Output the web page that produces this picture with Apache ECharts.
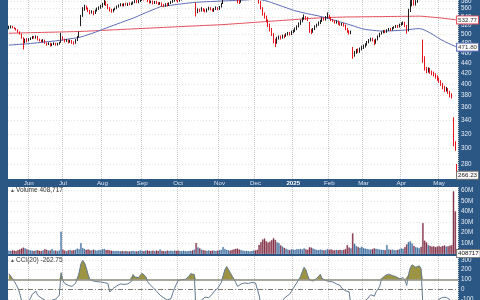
<!DOCTYPE html>
<html><head><meta charset="utf-8">
<script src="https://cdn.jsdelivr.net/npm/echarts@6/dist/echarts.min.js"></script>
<style>html,body{margin:0;padding:0;background:#2b5785;}#c{width:480px;height:300px;}</style>
</head><body><div id="c"></div>
<script>
// ---- categories / tick labels ----
const monthLabels = ['Jun','Jul','Aug','Sep','Oct','Nov','Dec','2025','Feb','Mar','Apr','May'];
const monthStarts = [11,30,52,74,94,117,137,158,178,197,218,239];
const priceTicks = [280,300,320,340,360,380,400,420,440,460,480,500,520,540,560,580];
const volTicks = [10,20,30,40,50,60];
const cciTicks = [-100,0,100,200,300];
const lastText = {price:'266.23', vol:'408717', ma50:'471.80', ma200:'532.77'};
const legendVol = 'Volume 408,717';
const legendCci = 'CCI(20) -262.75';

// ---- daily prices (May 16 2024 .. May 15 2025) ----
const openP = [
514,516,518,515,513,510,505,500,492,482,489,
486,489,491,494,492,495,488,486,484,487,481,478,480,476,478,480,477,479,482,
494,488,485,486,483,485,482,481,487,495,520,542,558,566,561,555,550,553,549,556,560,563,
566,572,578,570,562,557,554,558,561,566,569,571,568,572,570,573,571,574,577,579,576,580,
583,586,584,588,580,576,579,574,578,575,572,574,570,567,572,569,574,578,581,585,
584,580,583,588,592,595,598,600,603,598,570,552,558,556,561,557,554,559,562,558,555,560,563,
560,566,575,592,598,601,604,599,596,592,587,580,577,585,592,596,600,603,606,608,
610,605,596,578,562,548,540,531,522,512,500,485,482,490,494,492,497,495,499,502,500,
505,508,512,518,524,530,536,540,537,525,508,505,512,518,522,526,531,536,534,539,
543,538,533,530,527,529,525,522,524,520,512,506,503,470,457,462,466,464,469,
472,474,478,483,487,490,486,481,488,495,501,504,507,505,509,512,510,514,516,518,517,
522,524,527,519,510,556,574,580,572,579,585,590,485,450,428,425,428,422,420,417,413,
410,405,400,395,390,392,386,381,340,306,278];
const closeP = [
516,518,515,513,510,506,501,493,482,488,486,
489,491,494,492,495,488,486,484,487,481,478,480,476,478,480,477,479,481,495,
488,485,486,483,485,482,480,487,494,503,540,558,565,562,555,550,553,548,556,560,563,566,
572,578,570,562,557,554,558,561,566,569,571,568,572,570,573,571,574,577,579,576,580,583,
586,584,588,580,576,579,574,578,575,572,574,570,567,572,569,574,578,581,585,584,
580,583,588,592,595,598,600,603,598,601,553,558,556,561,557,554,559,562,558,555,560,563,559,
565,572,592,598,601,604,599,596,592,588,579,576,585,592,596,600,603,606,608,610,
605,596,578,562,548,540,531,520,512,500,488,482,490,494,492,497,495,499,502,500,505,
508,512,518,524,530,536,540,537,533,508,505,512,518,522,526,531,536,534,539,543,
538,533,530,527,529,525,522,524,520,512,506,503,505,457,462,466,464,469,472,
474,478,483,487,490,486,480,488,495,501,504,507,505,509,512,510,514,516,518,517,522,
524,527,520,506,555,575,580,572,578,585,590,586,452,428,425,428,422,420,417,413,410,
405,400,395,390,392,386,381,379,309,301,266.23];
const lowP = [
511,513,513,511,508,503,499,490,467,480,482,
484,487,489,490,490,486,484,482,482,479,475,476,473,474,476,475,475,477,481,
486,482,483,480,481,479,477,479,485,493,518,540,555,558,552,546,548,544,547,553,557,560,
563,569,567,559,553,550,551,556,559,563,566,566,566,568,567,569,569,571,574,574,574,577,
580,581,582,577,573,574,571,572,572,569,570,566,564,565,566,567,572,575,578,580,
576,578,581,586,590,593,596,597,595,596,541,549,552,553,553,551,551,556,556,553,552,557,556,
557,563,572,589,595,598,596,594,590,585,574,572,575,583,590,594,598,601,603,605,
602,592,573,558,543,536,527,516,506,496,480,472,479,488,488,490,491,494,497,497,498,
502,505,509,515,521,527,533,533,530,503,500,503,509,515,519,523,528,531,531,536,
535,530,528,524,524,521,519,519,517,509,503,499,500,448,452,458,460,460,465,
468,471,475,480,484,484,476,479,486,493,499,502,502,503,507,507,508,512,514,514,515,
519,521,516,501,506,552,566,568,568,575,582,582,440,425,420,421,419,416,414,410,406,
402,397,391,386,387,383,377,375,303,297,264];
const highP = [
519,520,519,516,514,511,506,501,493,490,491,
491,493,496,496,497,496,490,488,489,488,482,482,481,480,482,481,481,483,503,
495,490,489,488,488,487,484,489,496,506,545,564,570,568,563,557,556,555,558,563,566,570,
575,590,580,572,564,560,560,563,568,571,574,573,574,575,575,576,576,579,582,583,584,588,
590,592,593,589,582,581,581,580,580,577,577,576,572,574,575,576,580,584,589,590,
586,586,590,594,597,600,603,606,604,603,575,561,560,564,562,559,561,565,564,560,562,566,564,
567,575,595,601,604,608,606,601,598,594,588,582,587,595,599,603,606,609,612,614,
613,608,598,580,564,551,543,534,524,514,502,490,494,497,497,499,499,502,505,505,508,
510,515,520,527,533,539,546,542,540,528,512,514,520,524,529,533,539,539,542,551,
545,540,535,532,532,531,527,526,526,522,514,509,508,472,464,468,469,471,475,
477,480,485,489,492,492,488,490,497,503,506,509,509,511,514,514,516,518,521,521,524,
527,529,528,521,560,582,588,585,582,590,595,594,488,453,432,431,430,425,423,420,416,
412,407,402,397,395,393,388,384,345,310,280];
const ma50 = [
476.0,476.3,476.6,476.9,477.2,477.5,477.8,478.0,478.2,478.5,478.8,
479.2,479.6,480.0,480.4,480.8,481.2,481.6,482.0,482.4,482.8,483.2,483.6,484.0,484.4,484.8,485.2,485.6,486.0,486.4,
487.0,487.8,488.6,489.2,489.8,490.3,490.8,491.3,491.9,492.6,493.6,494.8,496.1,497.4,498.7,500.0,501.4,502.8,504.3,505.8,507.4,509.0,
510.6,512.1,513.7,515.2,516.8,518.3,519.9,521.4,523.0,524.5,526.1,527.6,529.2,530.7,532.3,533.8,535.4,537.0,538.8,540.7,542.6,544.5,
546.4,548.2,550.1,552.0,553.8,555.7,557.5,559.4,561.2,563.1,565.0,565.7,566.4,567.0,567.6,568.2,568.8,569.4,570.0,570.6,
571.2,571.8,572.4,573.0,573.5,574.0,574.5,575.0,575.5,576.0,576.3,576.6,576.9,577.2,577.5,577.8,578.0,578.2,578.4,578.6,578.8,579.0,579.2,
579.4,579.6,579.8,580.0,580.2,580.4,580.6,580.8,581.0,581.2,581.4,581.6,581.8,582.0,582.3,582.6,582.9,583.2,583.5,583.8,
584.0,583.9,583.6,583.0,582.2,581.2,580.0,578.6,577.0,575.4,573.8,572.2,570.6,569.0,567.4,565.8,564.2,562.6,561.0,559.4,557.8,
556.2,555.0,553.9,552.8,551.7,550.6,549.6,548.6,547.7,546.8,545.9,545.0,544.1,543.2,542.3,541.4,540.2,539.0,537.8,536.6,
535.4,534.2,533.0,531.8,530.6,529.4,528.2,527.0,525.8,524.5,523.2,521.9,520.6,519.2,517.8,516.4,515.0,513.6,512.4,
511.4,510.6,510.0,509.5,509.0,508.6,508.2,507.8,507.5,507.2,507.0,506.9,506.9,507.0,507.1,507.3,507.5,507.7,507.9,508.1,508.3,
508.6,508.9,509.2,509.5,510.0,510.6,511.2,511.7,512.1,512.4,512.6,512.3,510.8,509.0,507.0,505.0,502.8,500.5,498.0,495.3,492.6,
490.0,488.0,486.0,484.0,482.0,480.2,478.5,476.8,475.0,473.4,471.8];
const ma200 = [
502.0,502.1,502.2,502.3,502.4,502.5,502.6,502.7,502.8,502.9,503.0,
503.1,503.2,503.3,503.4,503.5,503.6,503.7,503.8,503.9,504.0,504.1,504.2,504.3,504.4,504.5,504.6,504.7,504.8,504.9,
505.0,505.1,505.2,505.3,505.4,505.5,505.6,505.7,505.8,505.9,506.0,506.2,506.4,506.6,506.8,507.0,507.2,507.4,507.6,507.8,508.0,508.2,
508.4,508.6,508.8,509.0,509.2,509.4,509.6,509.8,510.0,510.2,510.4,510.6,510.8,511.0,511.2,511.4,511.6,511.8,512.0,512.2,512.4,512.6,
512.8,513.0,513.2,513.4,513.6,513.8,514.0,514.2,514.4,514.6,514.8,515.0,515.2,515.4,515.6,515.8,516.0,516.2,516.4,516.6,
516.8,517.0,517.2,517.4,517.6,517.8,518.0,518.2,518.4,518.6,518.8,519.0,519.2,519.4,519.6,519.8,520.0,520.2,520.4,520.6,520.8,521.0,521.2,
521.4,521.6,521.8,522.0,522.3,522.6,522.9,523.2,523.5,523.8,524.1,524.4,524.7,525.0,525.3,525.6,525.9,526.2,526.5,526.8,
527.1,527.4,527.7,528.0,528.3,528.6,528.9,529.2,529.5,529.8,530.1,530.4,530.7,531.0,531.3,531.6,531.9,532.2,532.5,532.8,533.1,
533.4,533.7,534.0,534.3,534.6,534.9,535.2,535.5,535.8,536.1,536.4,536.7,537.0,537.2,537.4,537.6,537.8,538.0,538.2,538.4,
538.6,538.8,539.0,539.1,539.2,539.3,539.4,539.5,539.6,539.7,539.8,539.8,539.9,539.9,540.0,540.0,540.1,540.1,540.2,
540.2,540.3,540.3,540.4,540.4,540.5,540.5,540.6,540.6,540.7,540.7,540.8,540.8,540.9,540.9,541.0,541.0,541.1,541.1,541.2,541.2,
541.3,541.3,541.4,541.4,541.5,541.5,541.6,541.6,541.7,541.7,541.8,541.8,541.4,541.0,540.6,540.2,539.8,539.4,539.0,538.6,538.2,
537.8,537.3,536.8,536.3,535.8,535.3,534.8,534.3,533.8,533.3,532.77];
// volume in millions
const volume = [
3.2,2.9,3.5,3.1,2.8,3.6,4.2,5.1,6.0,5.2,4.4,
3.8,3.4,3.1,2.9,3.3,3.6,3.0,2.8,3.4,4.6,3.9,3.2,3.5,4.6,3.1,3.3,2.7,3.4,21.0,
4.1,3.3,2.6,3.5,3.8,3.2,3.6,4.0,5.0,4.5,10.2,5.6,4.8,3.9,4.3,3.7,3.4,4.1,3.5,3.2,3.8,3.6,
4.4,4.8,3.6,3.9,3.5,3.1,2.9,2.8,3.0,2.7,2.6,2.9,2.5,2.8,2.6,2.4,2.7,2.9,2.6,2.5,2.8,3.4,
3.0,2.8,3.2,3.4,2.9,2.7,3.1,2.8,3.3,2.9,4.2,3.0,2.8,2.6,3.2,2.9,3.1,2.7,3.3,3.0,
3.2,2.9,2.8,3.1,2.7,2.6,3.0,2.9,3.4,4.1,10.3,6.2,5.4,4.1,3.6,3.3,3.0,3.4,2.9,3.2,3.1,2.8,3.3,
3.6,3.9,6.4,4.6,3.8,3.5,3.2,3.9,4.3,4.8,5.1,4.2,3.6,3.1,2.8,3.0,2.7,2.5,2.9,3.2,
3.4,4.0,8.5,11.2,13.6,14.5,12.0,10.8,11.6,13.0,14.8,13.4,11.0,10.2,8.1,6.9,5.8,4.9,4.2,3.6,4.4,
4.2,3.9,4.6,4.3,4.8,4.1,5.2,4.4,4.0,6.3,6.0,5.1,4.3,3.9,3.6,4.1,3.8,3.4,3.7,4.5,
4.0,4.3,3.7,3.4,3.9,3.6,3.8,3.5,4.0,4.6,8.3,6.1,5.2,19.5,9.6,7.4,6.5,5.8,6.8,
5.6,5.0,4.8,4.4,4.1,4.6,5.3,4.9,4.5,4.2,4.0,3.8,3.6,8.4,4.3,3.9,4.1,3.7,3.5,3.9,4.4,
5.2,4.8,6.5,9.0,11.2,12.0,9.8,7.6,6.4,6.0,5.4,6.8,29.0,12.5,10.8,8.4,7.6,6.9,7.2,6.5,7.0,
7.4,6.8,7.6,8.0,6.9,7.2,7.8,8.3,59.0,40.0,0.41];
const cci = [
160,140,110,80,50,15,-40,-110,-220,-170,-160,
-120,-90,-50,-40,-20,-60,-80,-90,-70,-110,-140,-120,-150,-110,-90,-100,-85,-60,170,
90,60,55,40,50,30,20,60,110,170,260,295,270,220,150,100,92,85,80,78,72,75,
70,68,65,60,-28,-10,10,25,35,45,55,40,50,45,55,60,80,150,125,110,120,140,
165,174,130,80,55,40,20,5,-20,-40,-60,-75,-85,-100,-110,-105,-95,-40,10,50,
90,95,100,98,102,110,130,160,170,150,-250,-180,-140,-110,-95,-80,-75,-85,-70,-50,-20,0,10,
20,70,140,200,232,215,170,135,105,70,30,40,55,60,65,70,60,55,70,72,
65,60,-60,-160,-220,-260,-280,-270,-250,-240,-230,-200,-180,-150,-130,-110,-90,-75,-70,-50,-20,
10,40,70,90,130,180,225,200,140,95,80,85,95,110,130,153,110,95,90,85,
80,82,75,70,55,45,40,10,-5,-15,-30,-25,-35,-300,-280,-240,-210,-180,-160,
-130,-115,-100,-80,-55,-50,-70,-25,0,30,105,125,140,150,156,145,140,135,130,120,105,
110,120,95,40,150,220,250,235,225,235,240,210,-180,-250,-240,-220,-200,-180,-160,-150,-140,
-100,-90,-82,-80,-82,-90,-105,-120,-280,-290,-262.75];

// ---- build ----
const N = closeP.length;
const cats = closeP.map((_, i) => String(i));
const L = Math.log;
const startMap = {}; monthStarts.forEach((s, k) => startMap[s] = monthLabels[k]);
const isStart = (i) => startMap[i] !== undefined;

const UP = '#1e1e1e', DN = '#e8141e', LASTC = '#f2a81d';
const candles = closeP.map((c, i) => {
  const up = i === 0 ? c >= openP[i] : c >= closeP[i - 1];
  let col = up ? UP : DN;
  if (i === N - 1) col = LASTC;
  return { value: [L(openP[i]), L(c), L(lowP[i]), L(highP[i])],
    itemStyle: { color: col, color0: col, borderColor: i === N-1 ? DN : col, borderColor0: i === N-1 ? DN : col } };
});
const volBars = volume.map((v, i) => {
  const up = i === 0 ? true : closeP[i] >= closeP[i - 1];
  return { value: v, itemStyle: { color: up ? '#4c7cae' : '#8e3650', borderColor: up ? '#2f5d8c' : '#6e2238', borderWidth: 0.3 } };
});
const cciFill = cci.map(v => Math.max(v, 100));

const FONT = 'Liberation Sans';
const axisTxt = { color: '#e4ebf3', fontSize: 6.3, fontFamily: FONT };
const gridLine = { show: true, lineStyle: { color: '#e4e4da', width: 1, type: [1, 2] } };
const vLine = { show: true, interval: (i) => isStart(i), lineStyle: { color: '#c9c9c9', width: 1, type: [1, 1] } };
const box = (bc, tc) => ({ backgroundColor: '#ffffff', borderColor: bc, borderWidth: 1, padding: [0, 1, 0, 1],
  color: tc, fontSize: 6.2, fontFamily: FONT, lineHeight: 7 });

function xAx(gi, showLabels) {
  return {
    type: 'category', gridIndex: gi, data: cats, boundaryGap: true,
    axisLine: { show: false }, axisTick: { show: false },
    axisLabel: showLabels ? {
      interval: (i) => isStart(i), margin: 1, color: '#d9e3ee', fontSize: 6.2, fontFamily: FONT,
      formatter: (v) => { const t = startMap[+v]; return t === '2025' ? '{b|2025}' : t; },
      rich: { b: { fontWeight: 'bold', color: '#ffffff', fontSize: 6.2, fontFamily: FONT } }
    } : { show: false },
    splitLine: vLine
  };
}

const option = {
  animation: false,
  backgroundColor: '#2b5785',
  title: [
    { text: '{i|▲}' + legendVol, left: 10, top: 187, padding: 0,
      textStyle: { fontSize: 6.5, color: '#333', fontWeight: 'normal', fontFamily: FONT,
        rich: { i: { fontSize: 5, color: '#555', padding: [0, 1, 0, 0] } } } },
    { text: '{i|▲}' + legendCci, left: 10, top: 257, padding: 0,
      textStyle: { fontSize: 6.5, color: '#333', fontWeight: 'normal', fontFamily: FONT,
        rich: { i: { fontSize: 5, color: '#555', padding: [0, 1, 0, 0] } } } }
  ],
  grid: [
    { left: 8, right: 22, top: 0, height: 179, show: true, backgroundColor: '#ffffff', borderWidth: 0, outerBoundsMode: 'none' },
    { left: 8, right: 22, top: 187, height: 67, show: true, backgroundColor: '#ffffff', borderWidth: 0, outerBoundsMode: 'none' },
    { left: 8, right: 22, top: 256, height: 44, show: true, backgroundColor: '#ffffff', borderWidth: 0, outerBoundsMode: 'none' }
  ],
  xAxis: [xAx(0, true), xAx(1, false), xAx(2, false)],
  yAxis: [
    { type: 'value', gridIndex: 0, position: 'right', min: Math.log(261.9), max: Math.log(582.3),
      axisLine: { show: false },
      axisTick: { show: false, customValues: priceTicks.map(L) },
      axisLabel: Object.assign({ customValues: priceTicks.map(L), margin: 3,
        formatter: (v) => String(Math.round(Math.exp(v))) }, axisTxt),
      splitLine: gridLine },
    { type: 'value', gridIndex: 1, position: 'right', min: 0, max: 63,
      axisLine: { show: false },
      axisTick: { show: false, customValues: volTicks },
      axisLabel: Object.assign({ customValues: volTicks, margin: 3, formatter: (v) => v + 'M' }, axisTxt),
      splitLine: gridLine },
    { type: 'value', gridIndex: 2, position: 'right', min: -109, max: 340,
      axisLine: { show: false },
      axisTick: { show: false, customValues: cciTicks },
      axisLabel: Object.assign({ customValues: cciTicks, margin: 3 }, axisTxt),
      splitLine: gridLine }
  ],
  series: [
    { type: 'line', xAxisIndex: 0, yAxisIndex: 0, data: ma200.map(L), symbol: 'none', z: 3,
      lineStyle: { color: '#e2505e', width: 1 },
      endLabel: Object.assign({ show: true, distance: 0, formatter: () => lastText.ma200 }, box('#e2505e', '#333')) },
    { type: 'line', xAxisIndex: 0, yAxisIndex: 0, data: ma50.map(L), symbol: 'none', z: 3,
      lineStyle: { color: '#5d6cb6', width: 1 },
      endLabel: Object.assign({ show: true, distance: 0, formatter: () => lastText.ma50 }, box('#5d6cb6', '#333')) },
    { type: 'candlestick', xAxisIndex: 0, yAxisIndex: 0, data: candles, z: 4, clip: true,
      markPoint: { symbol: 'rect', symbolSize: 0, silent: true,
        data: [{ coord: [cats[N - 1], L(closeP[N - 1])],
          label: Object.assign({ show: true, position: 'right', distance: 0, formatter: lastText.price }, box('#777', '#111')) }] } },
    { type: 'bar', xAxisIndex: 1, yAxisIndex: 1, data: volBars, barCategoryGap: '22%',
      markPoint: { symbol: 'rect', symbolSize: 0, silent: true,
        data: [{ coord: [cats[N - 1], volume[N - 1]],
          label: Object.assign({ show: true, position: 'right', distance: 0, formatter: lastText.vol }, box('#777', '#111')) }] } },
    { type: 'line', xAxisIndex: 2, yAxisIndex: 2, data: cciFill, symbol: 'none', z: 2,
      lineStyle: { width: 0 }, areaStyle: { origin: 100, color: '#9d9443', opacity: 1 } },
    { type: 'line', xAxisIndex: 2, yAxisIndex: 2, data: cci, symbol: 'none', z: 4,
      lineStyle: { color: '#61788f', width: 1 },
      markLine: { symbol: 'none', silent: true, label: { show: false },
        data: [ { yAxis: 100, lineStyle: { color: '#8b8b7d', width: 1.5, type: 'solid' } },
                { yAxis: 0, lineStyle: { color: '#7a7a72', width: 1, type: [5, 2, 1, 2] } } ] } }
  ]
};
echarts.init(document.getElementById('c'), null, { renderer: 'canvas' }).setOption(option);
</script></body></html>
